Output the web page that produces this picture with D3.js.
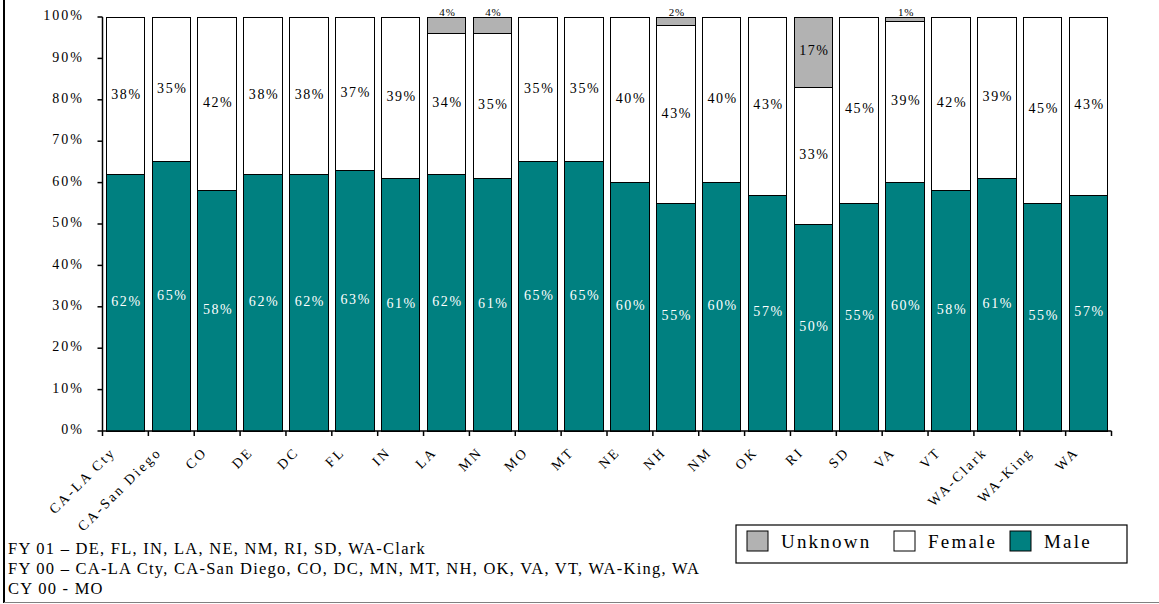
<!DOCTYPE html>
<html>
<head>
<meta charset="utf-8">
<script src="https://cdn.jsdelivr.net/npm/d3@7"></script>
<style>
  html, body { margin: 0; padding: 0; background: #fff; }
  svg { display: block; }
  text { font-family: "Liberation Serif", "DejaVu Serif", serif; }
</style>
</head>
<body>
<svg id="chart" width="1159" height="604"></svg>
<script>
// Sites reporting, in display order
const sites = ["CA-LA Cty", "CA-San Diego", "CO", "DE", "DC", "FL", "IN", "LA", "MN", "MO",
  "MT", "NE", "NH", "NM", "OK", "RI", "SD", "VA", "VT", "WA-Clark", "WA-King", "WA"];

// Percent of cases by gender
const male    = [62, 65, 58, 62, 62, 63, 61, 62, 61, 65, 65, 60, 55, 60, 57, 50, 55, 60, 58, 61, 55, 57];
const female  = [38, 35, 42, 38, 38, 37, 39, 34, 35, 35, 35, 40, 43, 40, 43, 33, 45, 39, 42, 39, 45, 43];
const unknown = [ 0,  0,  0,  0,  0,  0,  0,  4,  4,  0,  0,  0,  2,  0,  0, 17,  0,  1,  0,  0,  0,  0];

const seriesNames = ["Male", "Female", "Unknown"];
const yTicks = [0, 10, 20, 30, 40, 50, 60, 70, 80, 90, 100];

const footnotes = [
  "FY 01 – DE, FL, IN, LA, NE, NM, RI, SD, WA-Clark",
  "FY 00 – CA-LA Cty, CA-San Diego, CO, DC, MN, MT, NH, OK, VA, VT, WA-King, WA",
  "CY 00 - MO"
];

const colors = { Male: "#008080", Female: "#ffffff", Unknown: "#b2b2b2" };

const svg = d3.select("#chart");

// Frame
svg.append("line").attr("x1", 4).attr("x2", 4).attr("y1", 0).attr("y2", 603)
  .attr("stroke", "#000").attr("stroke-width", 2);
svg.append("line").attr("x1", 4).attr("x2", 1159).attr("y1", 602.5).attr("y2", 602.5)
  .attr("stroke", "#808080").attr("stroke-width", 1);

const plot = { left: 102.5, right: 1111.5, top: 17, bottom: 431 };

const x = d3.scaleBand().domain(sites).range([plot.left, plot.right])
  .paddingInner(0.16).paddingOuter(0.08);
const y = d3.scaleLinear().domain([0, 100]).range([plot.bottom, plot.top]);

// Build stacked rows
const rows = sites.map((s, i) => ({ site: s, Male: male[i], Female: female[i], Unknown: unknown[i] }));
const stack = d3.stack().keys(seriesNames)(rows);

const g = svg.append("g");
stack.forEach(layer => {
  g.append("g").selectAll("rect").data(layer.filter(d => d[1] - d[0] > 0)).join("rect")
    .attr("x", d => x(d.data.site))
    .attr("width", x.bandwidth())
    .attr("y", d => y(d[1]))
    .attr("height", d => y(d[0]) - y(d[1]))
    .attr("fill", colors[layer.key])
    .attr("stroke", "#000")
    .attr("stroke-width", 1)
    .attr("shape-rendering", "crispEdges");
});

// Value labels
stack.forEach(layer => {
  const key = layer.key;
  layer.forEach(d => {
    const v = d[1] - d[0];
    if (v <= 0) return;
    const cx = x(d.data.site) + x.bandwidth() / 2 + 1;
    const small = v < 5;
    const cy = small ? y(100) - 4 : (y(d[0]) + y(d[1])) / 2;
    g.append("text")
      .attr("x", cx)
      .attr("y", cy)
      .attr("text-anchor", "middle")
      .attr("dominant-baseline", "middle")
      .attr("font-size", small ? 11 : 14)
      .attr("letter-spacing", small ? 0.8 : 1.6)
      .attr("fill", key === "Male" ? "#fff" : "#000")
      .text(v + "%");
  });
});

// Y axis
const yAxis = svg.append("g");
yAxis.append("line").attr("x1", plot.left).attr("x2", plot.left)
  .attr("y1", plot.top).attr("y2", plot.bottom).attr("stroke", "#000").attr("stroke-width", 1.5);
yAxis.selectAll("line.tick").data(yTicks).join("line").attr("class", "tick")
  .attr("x1", plot.left - 5).attr("x2", plot.left)
  .attr("y1", d => y(d)).attr("y2", d => y(d))
  .attr("stroke", "#000").attr("stroke-width", 1.5);
yAxis.selectAll("text").data(yTicks).join("text")
  .attr("x", 84).attr("y", d => y(d))
  .attr("text-anchor", "end").attr("dominant-baseline", "middle")
  .attr("font-size", 14).attr("letter-spacing", 2)
  .text(d => d + "%");

// X axis with ticks at category boundaries
const xAxis = svg.append("g");
xAxis.append("line").attr("x1", plot.left).attr("x2", plot.right)
  .attr("y1", plot.bottom).attr("y2", plot.bottom).attr("stroke", "#000").attr("stroke-width", 1.5);
const step = x.step();
const bounds = d3.range(sites.length + 1).map(i => plot.left + i * step);
xAxis.selectAll("line.tick").data(bounds).join("line").attr("class", "tick")
  .attr("x1", d => d).attr("x2", d => d)
  .attr("y1", plot.bottom).attr("y2", plot.bottom + 5)
  .attr("stroke", "#000").attr("stroke-width", 1.5);
xAxis.selectAll("text").data(sites).join("text")
  .attr("transform", d => {
    const cx = x(d) + x.bandwidth() / 2 - 9;
    return `translate(${cx},${453}) rotate(-45)`;
  })
  .attr("text-anchor", "end")
  .attr("font-size", 14).attr("letter-spacing", 2.4)
  .text(d => d);

// Legend
const legend = svg.append("g");
legend.append("rect").attr("x", 736).attr("y", 525).attr("width", 391).attr("height", 38)
  .attr("fill", "#fff").attr("stroke", "#000").attr("stroke-width", 1.2);
const legendItems = [
  { name: "Unknown", sx: 747, tx: 781 },
  { name: "Female", sx: 894, tx: 928 },
  { name: "Male", sx: 1010, tx: 1044 }
];
legendItems.forEach(it => {
  legend.append("rect").attr("x", it.sx).attr("y", 531).attr("width", 21).attr("height", 20)
    .attr("fill", colors[it.name]).attr("stroke", "#000").attr("stroke-width", 1);
  legend.append("text").attr("x", it.tx).attr("y", 548)
    .attr("font-size", 19).attr("letter-spacing", 2.2).text(it.name);
});

// Footnotes
svg.append("g").selectAll("text").data(footnotes).join("text")
  .attr("x", 8).attr("y", (d, i) => 554 + i * 20)
  .attr("font-size", 16.5).attr("letter-spacing", 1.25)
  .text(d => d);
</script>
</body>
</html>
